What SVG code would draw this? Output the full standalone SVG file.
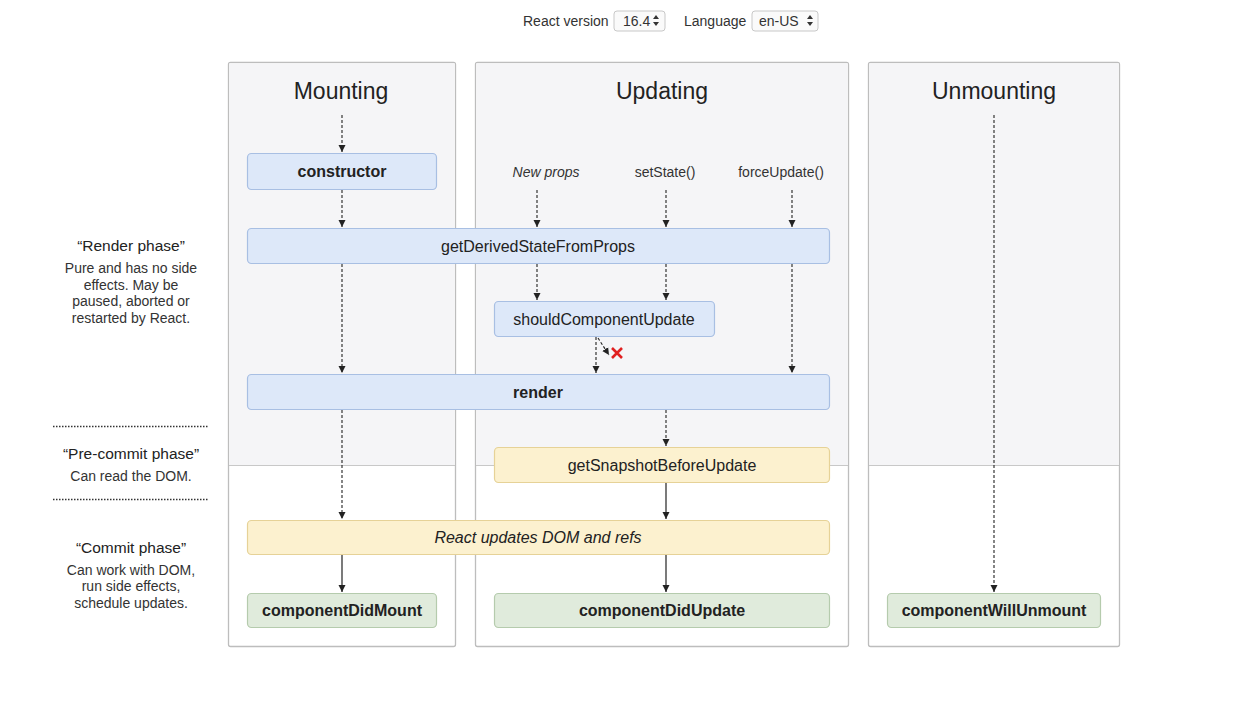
<svg xmlns="http://www.w3.org/2000/svg" width="1240" height="713" viewBox="0 0 1240 713">
<style>
text{font-family:"Liberation Sans",Arial,sans-serif;fill:#222}
.title{font-size:23px;text-anchor:middle}
.nt{font-size:16px;text-anchor:middle;dominant-baseline:central}
.b{font-weight:bold}
.it{font-style:italic}
.blue{fill:#dde8f9;stroke:#a8bfe3;stroke-width:1.2}
.yel{fill:#fcf1cf;stroke:#e6d297;stroke-width:1.2}
.grn{fill:#e0ebdc;stroke:#b5cbad;stroke-width:1.2}
.panel{fill:#ffffff;stroke:#bdbdbd;stroke-width:1.3}
.top{fill:#f5f5f7}
.dash{stroke:#222;stroke-width:1.1;stroke-dasharray:3 2;fill:none}
.solid{stroke:#222;stroke-width:1.2;fill:none}
.side{font-size:14px;text-anchor:middle;fill:#333}
.ph{font-size:15.5px;text-anchor:middle}
.small{font-size:14px;fill:#333}
.sel{fill:#fafafa;stroke:#c8c8c8;stroke-width:1}
</style>
<defs>
<marker id="ah" viewBox="0 0 10 10" refX="10" refY="5" markerWidth="7" markerHeight="8" markerUnits="userSpaceOnUse" orient="auto">
<path d="M0,0 L10,5 L0,10 z" fill="#222"/>
</marker>
</defs>
<rect width="1240" height="713" fill="#ffffff"/>

<g id="header">
<text class="small" x="523" y="26">React version</text>
<rect class="sel" x="614" y="11" width="51" height="20" rx="3"/>
<text class="small" x="623" y="26">16.4</text>
<path d="M656,15 L659,19 L653,19 z M653,22 L659,22 L656,26 z" fill="#333"/>
<text class="small" x="684" y="26">Language</text>
<rect class="sel" x="752" y="11" width="66" height="20" rx="3"/>
<text class="small" x="759" y="26">en-US</text>
<path d="M810,15 L813,19 L807,19 z M807,22 L813,22 L810,26 z" fill="#333"/>
</g>

<g id="panels">
<rect class="panel" x="228.5" y="62.5" width="227" height="584" rx="2"/>
<rect class="top" x="229.2" y="63.2" width="225.6" height="402"/>
<rect class="panel" x="475.5" y="62.5" width="373" height="584" rx="2"/>
<rect class="top" x="476.2" y="63.2" width="371.6" height="402"/>
<rect class="panel" x="868.5" y="62.5" width="251" height="584" rx="2"/>
<rect class="top" x="869.2" y="63.2" width="249.6" height="402"/>
<line x1="229" y1="465.5" x2="455" y2="465.5" stroke="#c8c8c8"/>
<line x1="476" y1="465.5" x2="848" y2="465.5" stroke="#c8c8c8"/>
<line x1="869" y1="465.5" x2="1119" y2="465.5" stroke="#c8c8c8"/>
<text class="title" x="341" y="99">Mounting</text>
<text class="title" x="662" y="99">Updating</text>
<text class="title" x="994" y="99">Unmounting</text>
</g>

<g id="phases">
<text class="ph" x="131" y="251">“Render phase”</text>
<text class="side" x="131" y="273">Pure and has no side</text>
<text class="side" x="131" y="290">effects. May be</text>
<text class="side" x="131" y="306">paused, aborted or</text>
<text class="side" x="131" y="323">restarted by React.</text>
<line x1="53" y1="426.5" x2="208" y2="426.5" stroke="#333" stroke-width="1.5" stroke-dasharray="1.5 1.5"/>
<text class="ph" x="131" y="459">“Pre-commit phase”</text>
<text class="side" x="131" y="481">Can read the DOM.</text>
<line x1="53" y1="499.5" x2="208" y2="499.5" stroke="#333" stroke-width="1.5" stroke-dasharray="1.5 1.5"/>
<text class="ph" x="131" y="553">“Commit phase”</text>
<text class="side" x="131" y="575">Can work with DOM,</text>
<text class="side" x="131" y="591">run side effects,</text>
<text class="side" x="131" y="608">schedule updates.</text>
</g>

<g id="triggers">
<text class="small it" x="546" y="177" text-anchor="middle">New props</text>
<text class="small" x="665" y="177" text-anchor="middle">setState()</text>
<text class="small" x="781" y="177" text-anchor="middle">forceUpdate()</text>
</g>

<g id="connectors">
<line class="dash" x1="342" y1="115" x2="342" y2="152" marker-end="url(#ah)"/>
<line class="dash" x1="342" y1="190" x2="342" y2="227" marker-end="url(#ah)"/>
<line class="dash" x1="342" y1="264" x2="342" y2="373" marker-end="url(#ah)"/>
<line class="dash" x1="342" y1="410" x2="342" y2="519" marker-end="url(#ah)"/>
<line class="solid" x1="342" y1="555" x2="342" y2="592" marker-end="url(#ah)"/>
<line class="dash" x1="537" y1="190" x2="537" y2="227" marker-end="url(#ah)"/>
<line class="dash" x1="666" y1="190" x2="666" y2="227" marker-end="url(#ah)"/>
<line class="dash" x1="792" y1="190" x2="792" y2="227" marker-end="url(#ah)"/>
<line class="dash" x1="537" y1="264" x2="537" y2="300" marker-end="url(#ah)"/>
<line class="dash" x1="666" y1="264" x2="666" y2="300" marker-end="url(#ah)"/>
<line class="dash" x1="792" y1="264" x2="792" y2="373" marker-end="url(#ah)"/>
<line class="dash" x1="596" y1="337" x2="596" y2="373" marker-end="url(#ah)"/>
<line class="dash" x1="598" y1="338" x2="609" y2="355" marker-end="url(#ah)"/>
<path d="M612,348 L622,358 M622,348 L612,358" stroke="#e02020" stroke-width="2.6" fill="none"/>
<line class="dash" x1="666" y1="410" x2="666" y2="446" marker-end="url(#ah)"/>
<line class="solid" x1="666" y1="483" x2="666" y2="519" marker-end="url(#ah)"/>
<line class="solid" x1="666" y1="555" x2="666" y2="592" marker-end="url(#ah)"/>
<line class="dash" x1="994" y1="115" x2="994" y2="592" marker-end="url(#ah)"/>
</g>

<g id="constructor">
<rect class="blue" x="247.5" y="153.5" width="189" height="36" rx="4"/>
<text class="nt b" x="342" y="171.5">constructor</text>
</g>
<g id="getDerivedStateFromProps">
<rect class="blue" x="247.5" y="228.5" width="582" height="35" rx="4"/>
<text class="nt" x="538" y="246">getDerivedStateFromProps</text>
</g>
<g id="shouldComponentUpdate">
<rect class="blue" x="494.5" y="301.5" width="220" height="35" rx="4"/>
<text class="nt" x="604" y="319">shouldComponentUpdate</text>
</g>
<g id="render">
<rect class="blue" x="247.5" y="374.5" width="582" height="35" rx="4"/>
<text class="nt b" x="538" y="392">render</text>
</g>
<g id="getSnapshotBeforeUpdate">
<rect class="yel" x="494.5" y="447.5" width="335" height="35" rx="4"/>
<text class="nt" x="662" y="465">getSnapshotBeforeUpdate</text>
</g>
<g id="reactUpdatesDOM">
<rect class="yel" x="247.5" y="520.5" width="582" height="34" rx="4"/>
<text class="nt it" x="538" y="537.5">React updates DOM and refs</text>
</g>
<g id="componentDidMount">
<rect class="grn" x="247.5" y="593.5" width="189" height="34" rx="4"/>
<text class="nt b" x="342" y="610.5">componentDidMount</text>
</g>
<g id="componentDidUpdate">
<rect class="grn" x="494.5" y="593.5" width="335" height="34" rx="4"/>
<text class="nt b" x="662" y="610.5">componentDidUpdate</text>
</g>
<g id="componentWillUnmount">
<rect class="grn" x="887.5" y="593.5" width="213" height="34" rx="4"/>
<text class="nt b" x="994" y="610.5">componentWillUnmount</text>
</g>
</svg>
